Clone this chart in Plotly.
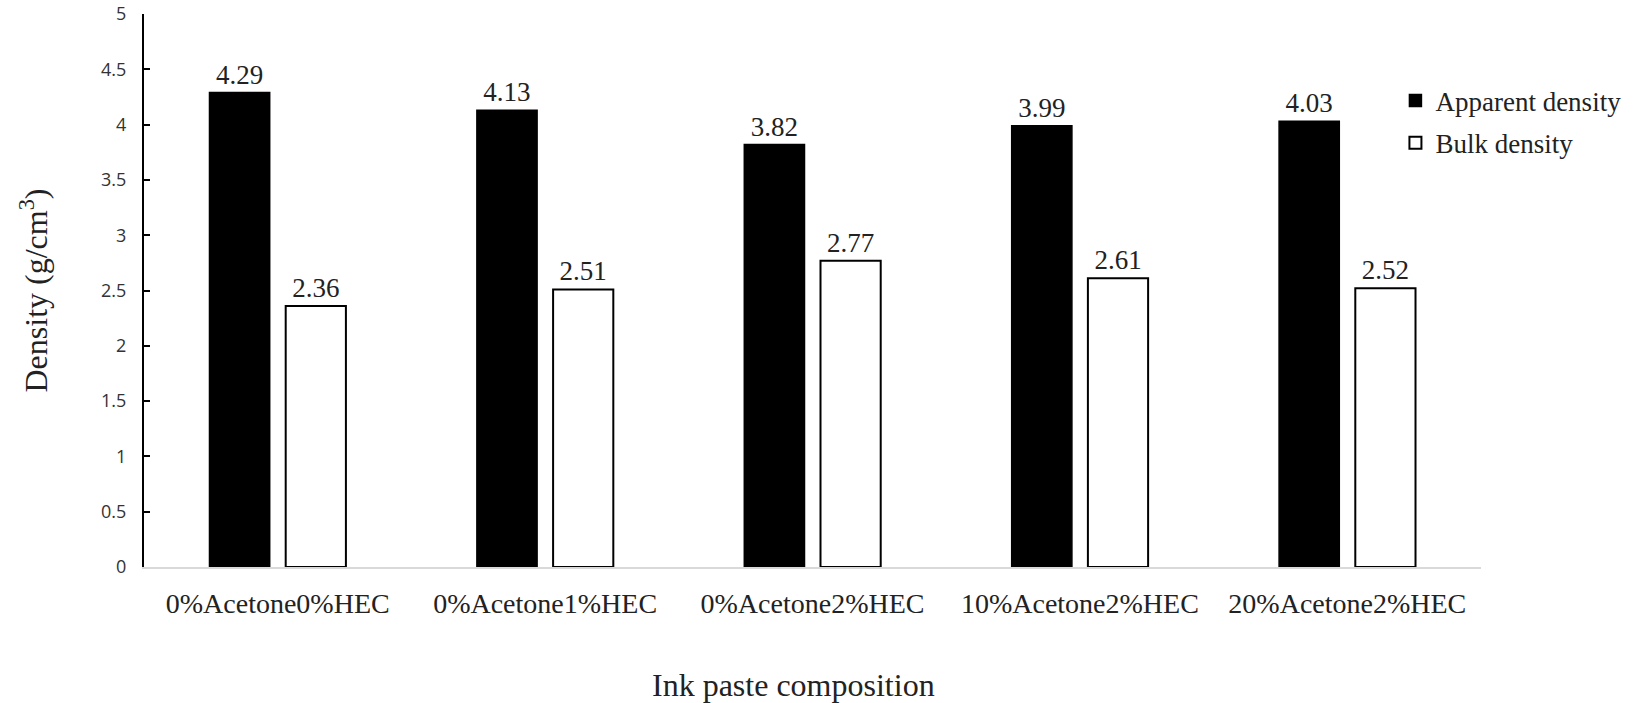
import plotly.graph_objects as go

categories = ["0%Acetone0%HEC", "0%Acetone1%HEC", "0%Acetone2%HEC",
              "10%Acetone2%HEC", "20%Acetone2%HEC"]
apparent_density = [4.29, 4.13, 3.82, 3.99, 4.03]
bulk_density = [2.36, 2.51, 2.77, 2.61, 2.52]
apparent_labels = ["4.29", "4.13", "3.82", "3.99", "4.03"]
bulk_labels = ["2.36", "2.51", "2.77", "2.61", "2.52"]

serif = "Liberation Serif, Times New Roman, serif"
sans = "Open Sans, Calibri, sans-serif"

fig = go.Figure()
fig.add_trace(go.Bar(
    x=categories, y=apparent_density, name="Apparent density",
    marker=dict(color="black", line=dict(color="black", width=1.5)),
    text=apparent_labels, textposition="outside",
    textfont=dict(family=serif, size=27, color="#222"),
    cliponaxis=False, legendgroup="a",
))
fig.add_trace(go.Bar(
    x=categories, y=bulk_density, name="Bulk density",
    marker=dict(color="white", line=dict(color="black", width=2)),
    text=bulk_labels, textposition="outside",
    textfont=dict(family=serif, size=27, color="#222"),
    cliponaxis=False, legendgroup="b",
))

fig.update_layout(
    width=1644, height=703,
    margin=dict(l=144, r=163, t=14, b=136, autoexpand=False),
    plot_bgcolor="white", paper_bgcolor="white",
    barmode="group", bargap=0.43, bargroupgap=0.21,
    showlegend=True,
    legend=dict(x=0.936, y=0.887, xanchor="left", yanchor="top",
                font=dict(family=serif, size=27, color="#222"),
                tracegroupgap=4, bgcolor="rgba(0,0,0,0)"),
    annotations=[
        dict(text="Ink paste composition", xref="paper", yref="paper",
             x=0.486, y=-0.213, xanchor="center", yanchor="middle",
             showarrow=False, font=dict(family=serif, size=32, color="#222")),
        dict(text="Density (g/cm<sup>3</sup>)", xref="paper", yref="paper",
             x=-0.083, y=0.5, xanchor="center", yanchor="middle", textangle=-90,
             showarrow=False, font=dict(family=serif, size=32, color="#222")),
    ],
)
fig.update_xaxes(
    automargin=False,
    showline=True, linecolor="#d9d9d9", linewidth=2,
    ticks="", showgrid=False, ticklabelstandoff=10,
    tickfont=dict(family=serif, size=28, color="#222"),
)
fig.update_yaxes(
    automargin=False,
    range=[0, 5], dtick=0.5, showgrid=False, zeroline=False,
    showline=True, linecolor="black", linewidth=2,
    ticks="inside", ticklen=6, tickwidth=2, tickcolor="black",
    ticklabelstandoff=12,
    tickfont=dict(family=sans, size=18, color="#333"),
)

fig.write_html("out.html")
